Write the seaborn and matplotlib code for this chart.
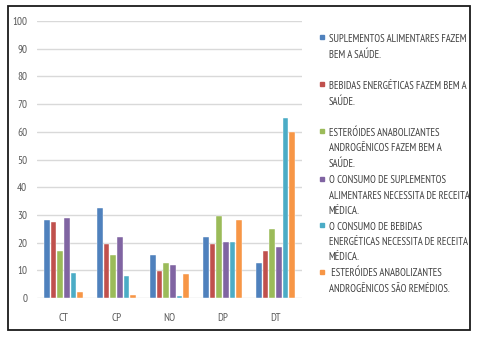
import matplotlib
matplotlib.use("Agg")
import matplotlib.pyplot as plt
import seaborn as sns
import pandas as pd
from matplotlib.lines import Line2D
from matplotlib.patches import Rectangle

categories = ["CT", "CP", "NO", "DP", "DT"]
series = [
    "SUPLEMENTOS ALIMENTARES FAZEM\nBEM A SAÚDE.",
    "BEBIDAS ENERGÉTICAS FAZEM BEM A\nSAÚDE.",
    "ESTERÓIDES ANABOLIZANTES\nANDROGÊNICOS FAZEM BEM A\nSAÚDE.",
    "O CONSUMO DE SUPLEMENTOS\nALIMENTARES NECESSITA DE RECEITA\nMÉDICA.",
    "O CONSUMO DE BEBIDAS\nENERGÉTICAS NECESSITA DE RECEITA\nMÉDICA.",
    " ESTERÓIDES ANABOLIZANTES\nANDROGÊNICOS SÃO REMÉDIOS.",
]
s1 = [28.2, 32.5, 15.4, 21.9, 12.5]
s2 = [27.3, 19.5, 9.7, 19.4, 17.0]
s3 = [17.0, 15.6, 12.5, 29.7, 24.9]
s4 = [28.8, 21.9, 11.9, 20.2, 18.4]
s5 = [9.1, 7.9, 0.7, 20.2, 64.9]
s6 = [2.0, 1.1, 8.5, 28.2, 59.9]
yticks = list(range(0, 101, 10))
colors = ["#4F81BD", "#C0504D", "#9BBB59", "#8064A2", "#4BACC6", "#F79646"]

values = [s1, s2, s3, s4, s5, s6]
rows = []
for name, vals in zip(series, values):
    for c, v in zip(categories, vals):
        rows.append({"cat": c, "series": name, "value": v})
df = pd.DataFrame(rows)

sns.set_theme(style="white")
FONT = ["PT Sans Narrow", "DejaVu Sans"]
plt.rcParams["font.family"] = FONT

fig = plt.figure(figsize=(4.79, 3.39), dpi=100)
fig.patch.set_facecolor("white")
ax = fig.add_axes([37 / 479, 41 / 339, 265 / 479, 277 / 339])

sns.barplot(data=df, x="cat", y="value", hue="series", order=categories,
            hue_order=series, palette=colors, width=0.75, gap=0.12,
            legend=False, ax=ax, saturation=1, edgecolor="white", linewidth=0.3)

ax.set_ylim(0, 100)
ax.set_xlim(-0.5, len(categories) - 0.5)
ax.set_yticks(yticks)
ax.set_yticklabels([str(t) for t in yticks])
ax.yaxis.grid(True, color="#D9D9D9", linewidth=1)
ax.set_axisbelow(True)
for sp in ax.spines.values():
    sp.set_visible(False)
ax.tick_params(axis="both", length=0, labelsize=8, labelcolor="#595959")
ax.tick_params(axis="y", pad=7)
ax.tick_params(axis="x", pad=11)
ax.set_xlabel("")
ax.set_ylabel("")

handles = [Line2D([0], [0], marker="s", linestyle="none", markersize=3.5,
                  markerfacecolor=c, markeredgecolor=c) for c in colors]
labels = [s if s.count("\n") == 2 else s + "\n " for s in series]
leg = fig.legend(handles, labels, loc="upper left",
                 bbox_to_anchor=(318.5 / 479, 1 - 33.5 / 339),
                 frameon=False, fontsize=7.7, handlelength=0.6,
                 handletextpad=0.35, labelspacing=0.55, borderpad=0,
                 borderaxespad=0)
for t in leg.get_texts():
    t.set_color("#404040")
    t.set_linespacing(1.65)
for col in leg._legend_handle_box.get_children():
    for item in col.get_children():
        item.align = "top"

fig.patches.append(Rectangle((8 / 479, 1 - 330 / 339), 462 / 479, 324 / 339,
                             transform=fig.transFigure, fill=False,
                             edgecolor="#1a1a1a", linewidth=1.3, zorder=10))

fig.savefig("out.png", dpi=100)
